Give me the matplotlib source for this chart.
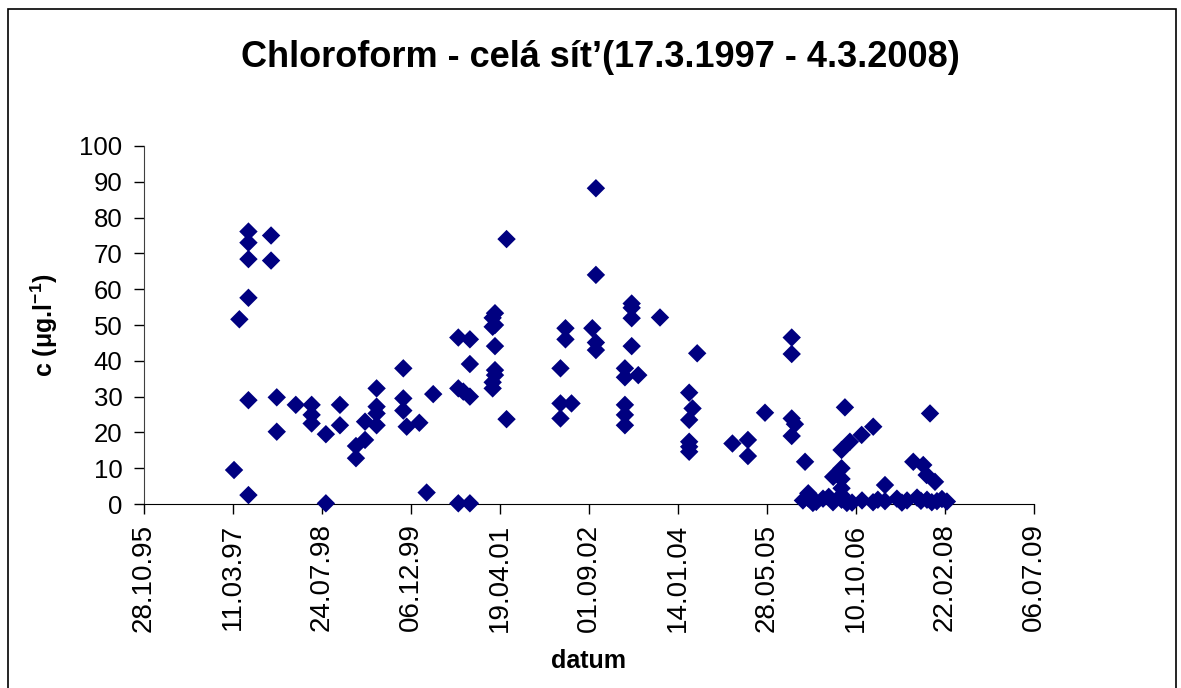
import numpy as np
import pandas as pd
import matplotlib
matplotlib.use('Agg')
import matplotlib.pyplot as plt
import matplotlib.dates as mdates
from matplotlib.patches import Rectangle

plt.rcParams['font.family'] = ['Liberation Sans', 'DejaVu Sans']
plt.rcParams['mathtext.fontset'] = 'custom'
plt.rcParams['mathtext.rm'] = 'Liberation Sans'
plt.rcParams['mathtext.bf'] = 'Liberation Sans:bold'

# datum odběru a koncentrace chloroformu (ug/l)
datum = ['1997-03-17', '1997-04-16',
         '1997-06-06', '1997-06-06', '1997-06-06', '1997-06-06', '1997-06-06', '1997-06-06',
         '1997-10-11', '1997-10-11', '1997-11-12', '1997-11-12', '1998-02-27',
         '1998-05-27', '1998-05-27', '1998-05-27', '1998-08-15', '1998-08-15',
         '1998-11-02', '1998-11-02', '1999-01-31', '1999-01-31', '1999-03-23', '1999-03-23',
         '1999-05-27', '1999-05-27', '1999-05-27', '1999-05-27',
         '1999-10-24', '1999-10-24', '1999-10-24', '1999-11-12', '2000-01-22', '2000-03-03',
         '2000-04-09', '2000-08-28', '2000-08-28', '2000-08-28', '2000-09-25',
         '2000-11-01', '2000-11-01', '2000-11-01', '2000-11-01',
         '2001-03-09', '2001-03-09', '2001-03-09', '2001-03-09',
         '2001-03-22', '2001-03-22', '2001-03-22', '2001-03-22', '2001-03-22',
         '2001-05-26', '2001-05-26',
         '2002-03-25', '2002-03-25', '2002-03-25', '2002-04-22', '2002-04-22', '2002-05-26',
         '2002-09-20', '2002-10-10', '2002-10-10', '2002-10-10', '2002-10-10',
         '2003-03-22', '2003-03-22', '2003-03-22', '2003-03-22', '2003-03-22',
         '2003-04-29', '2003-04-29', '2003-04-29', '2003-04-29', '2003-06-05', '2003-10-05',
         '2004-03-17', '2004-03-17', '2004-03-17', '2004-03-17', '2004-03-17',
         '2004-04-05', '2004-05-01', '2004-11-15', '2005-02-10', '2005-02-10', '2005-05-17',
         '2005-10-14', '2005-10-14', '2005-10-14', '2005-10-14', '2005-11-01',
         '2005-12-28', '2006-01-15', '2006-01-15', '2006-06-04',
         '2006-07-21', '2006-07-21', '2006-07-21', '2006-07-21', '2006-07-21',
         '2006-08-09', '2006-09-06', '2006-11-11', '2007-01-15', '2007-03-22',
         '2007-08-28', '2007-10-23', '2007-11-11', '2007-11-30', '2007-12-28',
         '2005-12-16', '2006-02-10', '2006-04-08', '2006-06-03', '2006-07-21',
         '2006-09-18', '2006-11-13', '2007-01-14', '2007-03-22', '2007-05-28',
         '2007-07-24', '2007-09-18', '2007-11-13', '2008-01-08', '2008-03-04',
         '2006-03-01', '2006-05-10', '2006-08-20', '2007-02-10', '2007-06-25',
         '2007-10-10', '2007-12-10', '2008-02-05']
c = [9.5, 51.6,
     76.1, 73.0, 68.4, 57.6, 29.0, 2.5,
     75.0, 68.0, 29.8, 20.2, 27.7,
     27.7, 24.9, 22.5, 19.5, 0.2,
     27.7, 22.0, 16.2, 12.8, 17.9, 23.0,
     32.3, 27.2, 25.3, 22.0,
     37.9, 29.5, 26.1, 21.6, 22.7, 3.2,
     30.7, 46.5, 32.3, 0.2, 31.4,
     46.0, 39.1, 30.0, 0.2,
     52.0, 49.5, 34.0, 32.3,
     53.3, 50.0, 44.1, 37.4, 36.0,
     74.0, 23.7,
     37.9, 28.1, 23.9, 49.1, 46.0, 28.1,
     49.1, 88.2, 64.0, 45.1, 43.0,
     37.9, 35.4, 27.7, 24.9, 22.0,
     56.0, 54.8, 51.9, 44.1, 36.0, 52.1,
     31.1, 23.5, 17.4, 16.0, 14.6,
     26.7, 42.1, 16.9, 17.9, 13.4, 25.5,
     46.5, 41.9, 23.9, 19.0, 22.3,
     11.8, 3.0, 1.6, 7.6,
     15.1, 10.0, 7.0, 4.4, 2.5,
     27.0, 17.4, 19.3, 21.6, 5.3,
     11.8, 10.9, 8.1, 25.3, 6.2,
     1.0, 0.3, 1.5, 0.5, 1.2,
     0.4, 1.0, 0.5, 0.8, 1.5,
     1.0, 1.8, 1.2, 0.8, 0.7,
     0.6, 2.0, 0.3, 1.2, 0.4,
     0.9, 0.5, 1.4]

x = pd.to_datetime(datum)

fig = plt.figure(figsize=(11.81, 6.88), dpi=100)
ax = fig.add_axes([0.1219, 0.2674, 0.7536, 0.5204])

ax.scatter(x, c, marker='D', s=88, color='#000080', edgecolors='none', zorder=3, clip_on=False)

start = pd.Timestamp('1995-10-28')
ticks = [start + pd.Timedelta(days=500 * i) for i in range(11)]
ax.set_xlim(ticks[0], ticks[-1])
ax.set_xticks(ticks)
ax.xaxis.set_major_formatter(mdates.DateFormatter('%d.%m.%y'))
ax.set_ylim(0, 100)
ax.set_yticks(np.arange(0, 101, 10))

ax.tick_params(axis='x', labelsize=20, rotation=90, direction='out', length=7, width=1, pad=7)
ax.tick_params(axis='y', labelsize=18.5, direction='out', length=7.5, width=1, pad=8)
for s in ['top', 'right']:
    ax.spines[s].set_visible(False)
ax.spines['left'].set_color('#404040')
ax.spines['bottom'].set_color('black')

ax.set_xlabel('datum', fontsize=18, fontweight='bold')
ax.xaxis.set_label_coords(0.5, -0.405)
ax.set_ylabel(r'c ($\mathbf{\mu}$g.l$^{\mathbf{-1}}$)', fontsize=18, fontweight='bold')
ax.yaxis.set_label_coords(-0.094, 0.5)

fig.text(0.508, 0.916, 'Chloroform - celá sít’(17.3.1997 - 4.3.2008)',
         ha='center', va='center', fontsize=26, fontweight='bold')

fig.patches.append(Rectangle((8 / 1181, -0.02), 1168 / 1181, 1.02 - 9 / 688,
                             transform=fig.transFigure, fill=False,
                             edgecolor='black', linewidth=1.2))

fig.savefig('out.png', dpi=100)
